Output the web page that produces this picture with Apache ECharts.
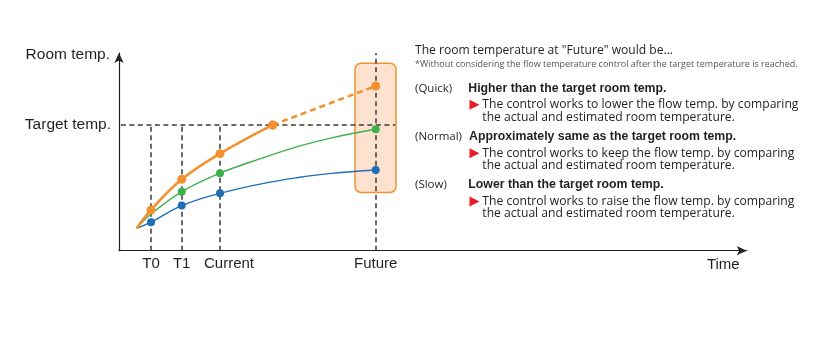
<!DOCTYPE html>
<html>
<head>
<meta charset="utf-8">
<script src="https://cdn.jsdelivr.net/npm/echarts@6/dist/echarts.min.js"></script>
<style>
  html, body { margin: 0; padding: 0; background: #fff; }
  #main { width: 827px; height: 354px; }
</style>
</head>
<body>
<div id="main"></div>
<script>
// x: time position along the axis (0..100), y: room temperature (0..100)
const tickNames = ['T0', 'T1', 'Current', 'Future'];
const tickX = [5.1, 9.99, 16.09, 40.9];
const targetTemp = 63.6;
const startPoint = [2.82, 11.3];

// dotted points of each curve
const quickDots = [[5.1, 20.6], [9.99, 36.1], [16.09, 49.1], [24.49, 63.6]];
const quickFutureDots = [[24.49, 63.6], [40.9, 83.3]];
const normalDots = [[9.99, 29.8], [16.09, 39.2], [40.9, 61.4]];
const slowDots = [[5.1, 14.4], [9.99, 22.8], [16.09, 29.0], [40.9, 40.8]];
// extra points (no dot)
const normalTrace = [[5.1, 18.6], [23.26, 47.3], [28.56, 52.8], [33.89, 57.1]];
const slowTrace = [[23.26, 34.2], [28.56, 37.0], [33.89, 39.1]];

const futureBox = [[37.6, 94.8], [44.13, 29.5]];
const targetLineEnd = 44;

const ORANGE = '#f39130';
const GREEN = '#3db14b';
const BLUE = '#1f6eb6';
const INK = '#231f20';
const FONT = 'Liberation Sans, Arial, sans-serif';
const BODY = 'Open Sans, Liberation Sans, sans-serif';

// merge dotted and trace points along x; undotted ones drawn without a symbol
function curve(dots, trace) {
  const plain = [startPoint].concat(trace || []).map(p => ({ value: p, symbol: 'none' }));
  return plain.concat(dots.map(p => ({ value: p })))
    .sort((a, b) => a.value[0] - b.value[0]);
}

const guides = tickX.slice(0, 3).map(x => [{ coord: [x, 0] }, { coord: [x, targetTemp] }]);
guides.push([{ coord: [tickX[3], 0] }, { coord: [tickX[3], 100] }]);
guides.push([{ coord: [0.3, targetTemp] }, { coord: [targetLineEnd, targetTemp] }]);

const chart = echarts.init(document.getElementById('main'));

// text block on the right
const txt = (x, y, text, size, weight, color, family) => ({
  type: 'text', x: x, y: y,
  style: { text: text, fontSize: size, fontWeight: weight || 'normal', fontFamily: family || BODY, fill: color || INK, verticalAlign: 'middle' }
});
const tri = (x, y) => ({
  type: 'polygon',
  shape: { points: [[x, y - 5], [x + 10, y], [x, y + 5]] },
  style: { fill: '#e61f26' }
});
const rows = [
  ['(Quick)', 'Higher than the target room temp.', 'lower', 88.3],
  ['(Normal)', 'Approximately same as the target room temp.', 'keep', 136.7],
  ['(Slow)', 'Lower than the target room temp.', 'raise', 185]
];
const graphics = [
  txt(415, 50.7, 'The room temperature at "Future" would be...', 12.1),
  txt(415, 64.3, '*Without considering the flow temperature control after the target temperature is reached.', 9, 'normal', '#555')
];
rows.forEach(r => {
  const y = r[3];
  graphics.push(txt(415, y, r[0], 11.5));
  graphics.push(txt(r[0] === '(Normal)' ? 469 : 468.3, y, r[1], 12.3, 'bold', INK, FONT));
  graphics.push(tri(469.5, y + 16.5));
  graphics.push(txt(482.3, y + 16.5, 'The control works to ' + r[2] + ' the flow temp. by comparing', 12.15));
  graphics.push(txt(482.3, y + 29, 'the actual and estimated room temperature.', 12.15));
});

chart.setOption({
  animation: false,
  grid: { left: 119, top: 53, right: 80.3, bottom: 103.3 },
  xAxis: {
    type: 'value', min: 0, max: 100,
    splitLine: { show: false },
    axisTick: { show: false },
    axisLine: { lineStyle: { color: INK, width: 1.2 }, symbol: ['none', 'arrow'], symbolSize: [7, 10], symbolOffset: [0, 0] },
    axisLabel: {
      customValues: tickX,
      margin: 6,
      color: INK, fontSize: 15, fontFamily: FONT,
      formatter: v => {
        const n = tickNames[tickX.indexOf(v)] || '';
        return n === 'Current' ? '{c|Current}' : n;
      },
      rich: { c: { padding: [0, 0, 0, 18], fontSize: 15, fontFamily: FONT, color: INK } }
    },
    name: 'Time', nameLocation: 'end', nameGap: -7,
    nameTextStyle: { align: 'right', verticalAlign: 'top', padding: [7, 0, 0, 0], color: INK, fontSize: 15, fontFamily: FONT }
  },
  yAxis: {
    type: 'value', min: 0, max: 100,
    splitLine: { show: false },
    axisTick: { show: false },
    axisLine: { show: true, lineStyle: { color: INK, width: 1.2 }, symbol: ['none', 'arrow'], symbolSize: [7, 10], symbolOffset: [0, 0] },
    axisLabel: {
      customValues: [targetTemp],
      margin: 8,
      color: INK, fontSize: 15.5, fontFamily: FONT,
      formatter: () => 'Target temp.'
    },
    name: 'Room temp.', nameLocation: 'end', nameGap: -2,
    nameTextStyle: { align: 'right', verticalAlign: 'middle', padding: [0, 9, 0, 0], color: INK, fontSize: 15.5, fontFamily: FONT }
  },
  graphic: graphics,
  series: [
    {
      type: 'custom',
      z: 1,
      silent: true,
      data: [futureBox[0].concat(futureBox[1])],
      renderItem: (params, api) => {
        const a = api.coord([api.value(0), api.value(1)]);
        const b = api.coord([api.value(2), api.value(3)]);
        return {
          type: 'rect',
          shape: { x: a[0], y: a[1], width: b[0] - a[0], height: b[1] - a[1], r: 6 },
          style: { fill: '#fde3cf', stroke: ORANGE, lineWidth: 1.5 }
        };
      },
      markLine: {
        z: 2,
        silent: true,
        symbol: 'none',
        label: { show: false },
        lineStyle: { color: '#3a3a3a', type: [5, 3.5], width: 1.5 },
        data: guides
      }
    },
    {
      type: 'line', z: 3, data: curve(slowDots, slowTrace), smooth: 0.4,
      symbol: 'circle', symbolSize: 8,
      lineStyle: { color: BLUE, width: 1.4 }, itemStyle: { color: BLUE }
    },
    {
      type: 'line', z: 4, data: curve(normalDots, normalTrace), smooth: 0.4,
      symbol: 'circle', symbolSize: 8,
      lineStyle: { color: GREEN, width: 1.4 }, itemStyle: { color: GREEN }
    },
    {
      type: 'line', z: 5, data: quickFutureDots, smooth: true,
      symbol: 'circle', symbolSize: 9,
      lineStyle: { color: ORANGE, width: 2.6, type: [6, 4] }, itemStyle: { color: ORANGE }
    },
    {
      type: 'line', z: 6, data: curve(quickDots), smooth: 0.4,
      symbol: 'circle', symbolSize: 9,
      lineStyle: { color: ORANGE, width: 2.6 }, itemStyle: { color: ORANGE }
    }
  ]
});
window.addEventListener('resize', chart.resize);
</script>
</body>
</html>
